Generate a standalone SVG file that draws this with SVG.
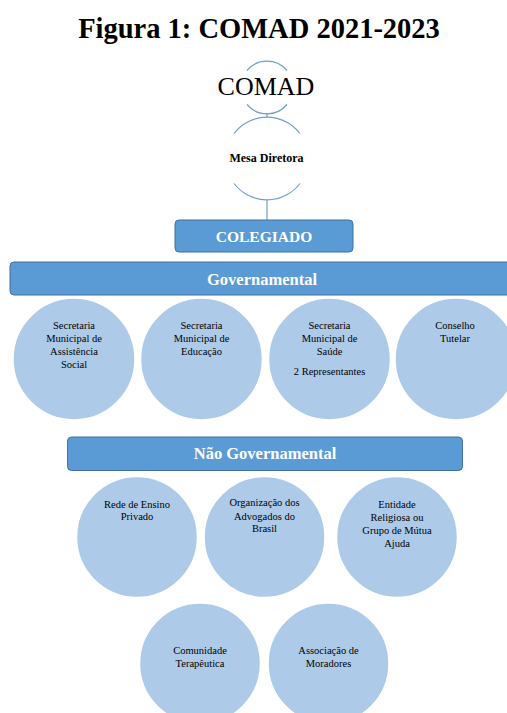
<svg xmlns="http://www.w3.org/2000/svg" width="507" height="713" viewBox="0 0 507 713">
<style>
.t{font-family:"Liberation Serif","Times New Roman",serif;fill:#000;text-anchor:middle}
.c{font-size:10.5px}
.bar{fill:#5B9BD5;stroke:#41719C;stroke-width:1}
.bt{font-family:"Liberation Serif","Times New Roman",serif;font-weight:bold;fill:#fff;text-anchor:middle}
.circ{fill:#ADCBE9;stroke:#fff;stroke-width:1.5}
.arc{fill:none;stroke:#6F9FCF;stroke-width:1.2}
.ln{stroke:#6F9FCF;stroke-width:1.2}
</style>
<rect width="507" height="713" fill="#fff"/>
<text class="t" x="259" y="37.5" style="font-size:28.5px;font-weight:bold">Figura 1: COMAD 2021-2023</text>

<g id="connectors">
<line class="ln" x1="267" y1="113" x2="267" y2="117"/>
<line class="ln" x1="267" y1="200" x2="267" y2="220"/>
</g>

<g id="comad">
<path class="arc" d="M247,70.5 A26,26 0 0 1 287,70.5"/>
<path class="arc" d="M247,104.5 A26,26 0 0 0 287,104.5"/>
<text class="t" x="266" y="95" style="font-size:26px">COMAD</text>
</g>

<g id="mesa">
<path class="arc" d="M234,133.5 A41.5,41.5 0 0 1 300,133.5"/>
<path class="arc" d="M234,183.5 A41.5,41.5 0 0 0 300,183.5"/>
<text class="t" x="266.5" y="162" style="font-size:12px;font-weight:bold">Mesa Diretora</text>
</g>

<g id="colegiado">
<rect class="bar" x="175" y="220" width="178" height="32" rx="4"/>
<text class="bt" x="264" y="242" style="font-size:15.5px">COLEGIADO</text>
</g>

<g id="governamental">
<rect class="bar" x="10" y="262" width="506" height="33" rx="4"/>
<text class="bt" x="262" y="285" style="font-size:16.5px">Governamental</text>
</g>

<g id="sm-assistencia">
<circle class="circ" cx="74" cy="359" r="61"/>
<text class="t c" x="74" y="329">Secretaria</text>
<text class="t c" x="74" y="342">Municipal de</text>
<text class="t c" x="74" y="355">Assistência</text>
<text class="t c" x="74" y="367.5">Social</text>
</g>
<g id="sm-educacao">
<circle class="circ" cx="201.5" cy="359" r="61"/>
<text class="t c" x="201.5" y="329">Secretaria</text>
<text class="t c" x="201.5" y="342">Municipal de</text>
<text class="t c" x="201.5" y="355">Educação</text>
</g>
<g id="sm-saude">
<circle class="circ" cx="329.5" cy="359" r="61"/>
<text class="t c" x="329.5" y="329">Secretaria</text>
<text class="t c" x="329.5" y="342">Municipal de</text>
<text class="t c" x="329.5" y="355">Saúde</text>
<text class="t c" x="329.5" y="375">2 Representantes</text>
</g>
<g id="conselho-tutelar">
<circle class="circ" cx="456" cy="359" r="61"/>
<text class="t c" x="455" y="329">Conselho</text>
<text class="t c" x="455" y="341.5">Tutelar</text>
</g>

<g id="nao-governamental">
<rect class="bar" x="67.5" y="437" width="395" height="33.5" rx="4"/>
<text class="bt" x="265" y="458.5" style="font-size:16.5px">Não Governamental</text>
</g>

<g id="rede-ensino">
<circle class="circ" cx="137" cy="537" r="60.5"/>
<text class="t c" x="137" y="507.5">Rede de Ensino</text>
<text class="t c" x="137" y="520">Privado</text>
</g>
<g id="oab">
<circle class="circ" cx="264.5" cy="537" r="60.5"/>
<text class="t c" x="264.5" y="506">Organização dos</text>
<text class="t c" x="264.5" y="519.5">Advogados do</text>
<text class="t c" x="264.5" y="532">Brasil</text>
</g>
<g id="entidade-religiosa">
<circle class="circ" cx="397" cy="537" r="60.5"/>
<text class="t c" x="397" y="507.5">Entidade</text>
<text class="t c" x="397" y="520.5">Religiosa ou</text>
<text class="t c" x="397" y="533.5">Grupo de Mútua</text>
<text class="t c" x="397" y="546.5">Ajuda</text>
</g>

<g id="comunidade-terapeutica">
<circle class="circ" cx="200" cy="663.5" r="60.5"/>
<text class="t c" x="200" y="654">Comunidade</text>
<text class="t c" x="200" y="666.5">Terapêutica</text>
</g>
<g id="associacao-moradores">
<circle class="circ" cx="328.5" cy="663.5" r="60.5"/>
<text class="t c" x="328.5" y="654">Associação de</text>
<text class="t c" x="328.5" y="666.5">Moradores</text>
</g>
</svg>
